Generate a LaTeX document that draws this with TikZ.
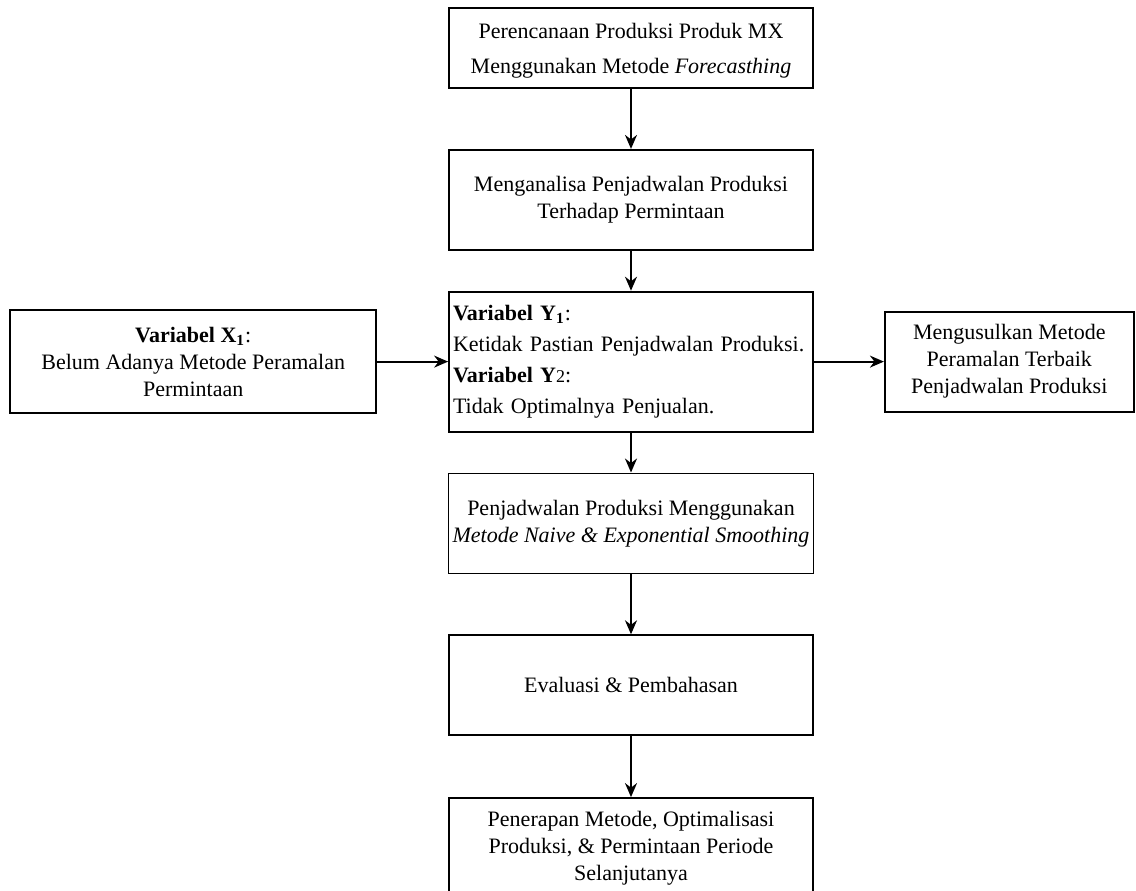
\documentclass[tikz,border=0pt]{standalone}
\usepackage{fontspec}
\setmainfont{Liberation Serif}
\usetikzlibrary{arrows.meta,positioning}

\begin{document}
\begin{tikzpicture}[
  box/.style={draw, line width=0.9pt, align=center, inner sep=2pt, minimum width=182pt, minimum height=50pt, font=\fontsize{11}{13.5}\selectfont},
  line/.style={line width=0.9pt},
  >={Stealth[length=7pt,width=6pt]}
]
\useasboundingbox (0pt,0pt) rectangle (568pt,-445pt);

\node[box, minimum height=40pt, text depth=0pt, font=\fontsize{11}{17.5}\selectfont] (plan) at (315.5pt,-24pt) {Perencanaan Produksi Produk MX\\Menggunakan Metode \textit{Forecasthing}};
\node[box, below=30pt of plan] (anal) {Menganalisa Penjadwalan Produksi\\Terhadap Permintaan};
\node[box, below=20pt of anal, minimum height=70pt, text width=178pt, align=left, font=\fontsize{11}{15.5}\selectfont] (var) {\textbf{Variabel Y\textsubscript{1}}:\\Ketidak Pastian Penjadwalan Produksi.\\\textbf{Variabel Y}{\small 2}:\\Tidak Optimalnya Penjualan.};
\node[box, below=20pt of var] (jadwal) {Penjadwalan Produksi Menggunakan\\\textit{Metode Naive \& Exponential Smoothing}};
\node[box, below=30pt of jadwal] (eval) {Evaluasi \& Pembahasan};
\node[box, below=30.5pt of eval] (terap) {Penerapan Metode, Optimalisasi\\Produksi, \& Permintaan Periode\\Selanjutanya};

\node[box, left=35.5pt of var, minimum width=183pt, minimum height=51.5pt] (varx) {\textbf{Variabel X\textsubscript{1}}:\\Belum Adanya Metode Peramalan\\Permintaan};
\node[box, right=35pt of var, minimum width=124.5pt] (usul) {Mengusulkan Metode\\Peramalan Terbaik\\Penjadwalan Produksi};

\draw[line, ->] (plan) -- (anal);
\draw[line, ->] (anal) -- (var);
\draw[line, ->] (var) -- (jadwal);
\draw[line, ->] (jadwal) -- (eval);
\draw[line, ->] (eval) -- (terap);
\draw[line, ->] (varx) -- (var);
\draw[line, ->] (var) -- (usul);
\end{tikzpicture}
\end{document}
